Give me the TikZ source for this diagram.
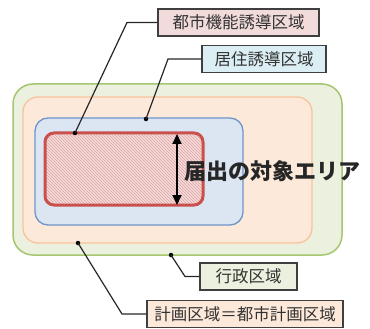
\documentclass[tikz,border=0pt]{standalone}
\usepackage{fontspec}
\setmainfont{Noto Sans CJK JP}
\usetikzlibrary{patterns,arrows.meta}
\definecolor{gfill}{HTML}{EBF1DE}
\definecolor{gline}{HTML}{A3C66F}
\definecolor{ofill}{HTML}{FDE9D9}
\definecolor{oline}{HTML}{F8C39C}
\definecolor{bfill}{HTML}{DCE6F2}
\definecolor{bline}{HTML}{6E95CA}
\definecolor{rline}{HTML}{C9504D}
\definecolor{rfill}{HTML}{F6DCDC}
\definecolor{rhatch}{HTML}{DDA3A2}
\definecolor{pinkbox}{HTML}{F2DCDB}
\definecolor{cyanbox}{HTML}{DBEEF4}
\definecolor{boxline}{HTML}{3F3F3F}
\tikzset{
  lbl/.style={draw=boxline, line width=1.4pt, inner sep=0pt, minimum height=27pt,
    font=\fontsize{16.5}{17}\selectfont, text=black!80},
  conn/.style={draw=black!85, line width=1.2pt},
  dot/.style={circle, fill=black, inner sep=0pt, minimum size=4.5pt}
}
\begin{document}
\begin{tikzpicture}[x=1pt,y=-1pt]
\useasboundingbox (0,0) rectangle (370,329);
% areas
\draw[fill=gfill, draw=gline, line width=1.5pt, rounded corners=20pt] (13,84) rectangle (342,255);
\draw[fill=ofill, draw=oline, line width=1.3pt, rounded corners=15pt] (23,97) rectangle (312,243);
\draw[fill=bfill, draw=bline, line width=1.3pt, rounded corners=13pt] (35,118) rectangle (243,225);
\fill[rfill, rounded corners=9pt] (45,133) rectangle (203,205);
\fill[pattern=north west lines, pattern color=rhatch, rounded corners=9pt] (45,133) rectangle (203,205);
\draw[draw=rline, line width=3pt, rounded corners=9pt] (45,133) rectangle (203,205);
% arrow
\coordinate (at) at (177,134);
\coordinate (ab) at (177,205);
\draw[line width=2pt, {Triangle[length=10pt,width=9pt]}-{Triangle[length=10pt,width=9pt]}] (at) -- (ab);
\node[anchor=west, inner sep=0pt, font=\fontsize{22}{23}\bfseries\selectfont, text=black!85] (target) at (184,171) {届出の対象エリア};
% labels
\node[lbl, fill=pinkbox, minimum width=161pt] (b1) at (238.5,22.5) {都市機能誘導区域};
\node[lbl, fill=cyanbox, minimum width=124pt] (b2) at (264,59) {居住誘導区域};
\node[lbl, fill=gfill, minimum width=97pt] (b3) at (248.5,276.5) {行政区域};
\node[lbl, fill=ofill, minimum width=196pt] (b4) at (245,314) {計画区域＝都市計画区域};
% dots
\node[dot] (d1) at (75,133) {};
\node[dot] (d2) at (146,119) {};
\node[dot] (d3) at (171,255) {};
\node[dot] (d4) at (78,243) {};
\coordinate (k1) at (127,22.5);
\coordinate (k2) at (168,59);
\coordinate (k3) at (185,276.5);
\coordinate (k4) at (122,314);
\draw[conn] (b1.west) -- (k1) -- (d1.center);
\draw[conn] (b2.west) -- (k2) -- (d2.center);
\draw[conn] (b3.west) -- (k3) -- (d3.center);
\draw[conn] (b4.west) -- (k4) -- (d4.center);
\end{tikzpicture}
\end{document}
